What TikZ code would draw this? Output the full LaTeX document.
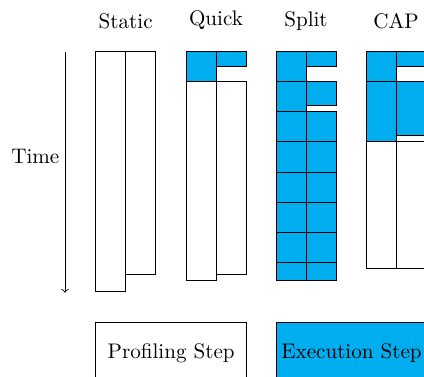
\documentclass[tikz,border=0pt]{standalone}
\definecolor{capblue}{RGB}{0,174,239}
\tikzset{
  cell/.style={draw=black, line width=0.4pt, fill=white},
  bcell/.style={draw=black, line width=0.4pt, fill=capblue},
  title/.style={anchor=base, inner sep=0pt},
}
\begin{document}
\begin{tikzpicture}[x=0.0166667cm, y=-0.0166667cm]
\useasboundingbox (0,0) rectangle (424,377);
\clip (0,0) rectangle (424,377);
% titles
\node[title] (tstatic) at (125.7,28.7) {Static};
\node[title] (tquick) at (216,25.8) {Quick};
\node[title] (tsplit) at (306,26.8) {Split};
\node[title] (tcap) at (396,28.5) {CAP};
% time arrow
\coordinate (ttop) at (65,51.7);
\coordinate (tbot) at (65,292.7);
\draw[->] (ttop) -- (tbot);
\node[title] (time) at (35.3,163.3) {Time};
% Static
\draw[cell] (95.7,51.7) rectangle (125.7,291.7);
\draw[cell] (125.7,51.7) rectangle (155.7,274);
% Quick
\draw[cell] (186,81.7) rectangle (216,280.7);
\draw[cell] (216,81.7) rectangle (246,274.3);
\draw[bcell] (186,51.7) rectangle (216,81.7);
\draw[bcell] (216,51.7) rectangle (246,66);
% Split
\foreach \a/\b in {51.7/81.7, 81.7/111.7, 111.7/141.8, 141.8/172.1, 172.1/202.2, 202.2/232.3, 232.3/262.3, 262.3/280}
  \draw[bcell] (276,\a) rectangle (306,\b);
\foreach \a/\b in {111.7/141.8, 141.8/172.1, 172.1/202.2, 202.2/232.3, 232.3/262.3, 262.3/280}
  \draw[bcell] (306,\a) rectangle (336,\b);
\draw[bcell] (306,51.7) rectangle (336,66);
\draw[bcell] (306,81.7) rectangle (336,105);
% CAP
\draw[cell] (366,141.7) rectangle (396,268);
\draw[cell] (396,141.7) rectangle (426,268);
\draw[bcell] (366,51.7) rectangle (396,81.7);
\draw[bcell] (366,81.7) rectangle (396,141.7);
\draw[bcell] (396,51.7) rectangle (426,66);
\draw[bcell] (396,81.7) rectangle (426,135.7);
% legend
\draw[cell] (95.7,322.7) rectangle (246.7,382.7);
\node[title] (prof) at (171.2,358.3) {Profiling Step};
\draw[bcell] (276.3,322.7) rectangle (427.3,382.7);
\node[title] (exec) at (351.5,358.3) {Execution Step};
\end{tikzpicture}
\end{document}
